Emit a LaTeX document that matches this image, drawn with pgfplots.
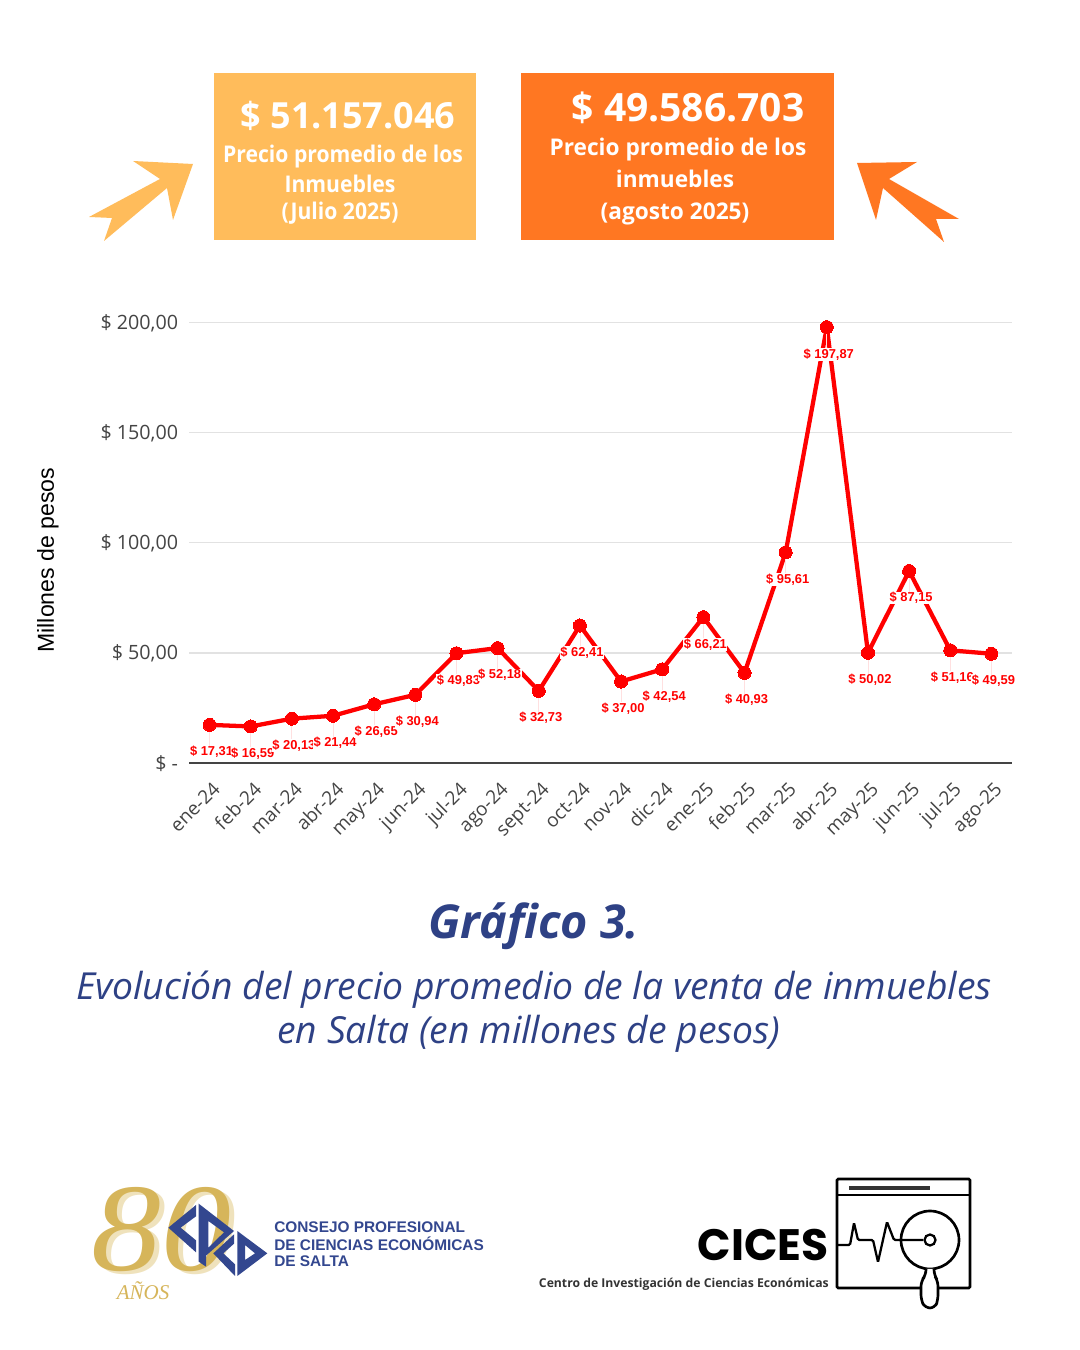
\documentclass[border=0pt]{standalone}
\usepackage{pgfplots}
\pgfplotsset{compat=1.18}
\usepackage{pgfplotstable}
\usepackage{fontspec}
\setmainfont{Open Sans}
\newfontfamily\arial{Liberation Sans}
\newfontfamily\tserif{Liberation Serif}
\newfontfamily\pop{Poppins}
\definecolor{boxA}{HTML}{FFBC5B}
\definecolor{boxB}{HTML}{FF7722}
\definecolor{navy}{HTML}{2E4185}
\definecolor{logob}{HTML}{33478F}
\definecolor{gold}{HTML}{D6B55A}
\definecolor{paleg}{HTML}{EFE2BC}
\definecolor{grid}{HTML}{E2E2E2}
\definecolor{tick}{HTML}{444444}
\newcommand{\px}[1]{\fontsize{\dimexpr#1pt*3/4\relax}{\dimexpr#1pt*9/10\relax}\selectfont}
\pgfplotstableread{
i v lab
0 17.31 17,31
1 16.59 16,59
2 20.13 20,13
3 21.44 21,44
4 26.65 26,65
5 30.94 30,94
6 49.83 49,83
7 52.18 52,18
8 32.73 32,73
9 62.41 62,41
10 37.00 37,00
11 42.54 42,54
12 66.21 66,21
13 40.93 40,93
14 95.61 95,61
15 197.87 197,87
16 50.02 50,02
17 87.15 87,15
18 51.16 51,16
19 49.59 49,59
}\datatable
\begin{document}
\begin{tikzpicture}
\path[use as bounding box,fill=white] (0,0) rectangle (810pt,1012.5pt);
\begin{axis}[
  at={(141.75pt,440.25pt)},anchor=south west,
  scale only axis,width=617.25pt,height=330.4pt,
  xmin=-0.5,xmax=19.5,ymin=0,ymax=200,
  axis x line=bottom,axis y line=left,
  x axis line style={-,color=tick,line width=1pt},
  y axis line style={draw=none},
  ytick={0,50,100,150,200},
  yticklabels={\$ -,{\$ 50,00},{\$ 100,00},{\$ 150,00},{\$ 200,00}},
  xtick={0,...,19},
  xticklabels={ene-24,feb-24,mar-24,abr-24,may-24,jun-24,jul-24,ago-24,sept-24,oct-24,nov-24,dic-24,ene-25,feb-25,mar-25,abr-25,may-25,jun-25,jul-25,ago-25},
  major tick length=0pt,
  ymajorgrids,grid style={color=grid,line width=1pt},
  yticklabel style={font=\px{19.7},text=tick,inner sep=0pt,xshift=-8pt,yshift=-0.7pt},
  xticklabel style={font=\px{19},text=tick,rotate=45,anchor=north east,inner sep=0pt,xshift=-8.2pt,yshift=-10.2pt},
  ylabel={Millones de pesos},
  every axis y label/.style={at={(rel axis cs:0,0.5)},rotate=90,anchor=center,xshift=-13pt,yshift=105.75pt,font=\arial\px{23.1},text=black},
  clip=false,
]
\addplot[red,line width=3.2pt,line join=round,mark=*,mark size=4.9pt,mark options={fill=red,draw=red,line width=0pt},
  point meta=explicit symbolic,
  nodes near coords={\$ \pgfplotspointmeta},
  nodes near coords style={anchor=center,xshift=1.5pt,yshift=-20.3pt,fill=white,inner sep=0.4pt,text=red,font=\arial\bfseries\px{12.9}},
  error bars/.cd,y dir=minus,y fixed=11.8,error mark=none,error bar style={red!12,line width=0.6pt}]
  table[x=i,y=v,meta=lab]{\datatable};
\end{axis}
\begin{scope}[x=0.75pt,y=-0.75pt,yshift=1012.5pt]
% boxes
\fill[boxA] (214,73) rectangle (476,240);
\fill[boxB] (521,73) rectangle (834,240);
\fill[boxA] (133,161)--(193,164)--(173,220)--(167,188)--(104,241)--(112,218)--(89,217)--(160,179)--cycle;
\fill[boxB] (857,163)--(917,162)--(889,179)--(959,219)--(936,219)--(944,242)--(883,188)--(876,220)--cycle;
\node[text=white,font=\bfseries\px{36}] at (348,116) {\$ 51.157.046};
\node[text=white,font=\bfseries\px{23}] at (343,157) {\scalebox{0.92}[1]{Precio promedio de los}};
\node[text=white,font=\bfseries\px{23}] at (340,184) {\scalebox{0.92}[1]{Inmuebles}};
\node[text=white,font=\bfseries\px{23}] at (340,213) {\scalebox{0.92}[1]{(Julio 2025)}};
\node[text=white,font=\bfseries\px{39}] at (688,108) {\$ 49.586.703};
\node[text=white,font=\bfseries\px{23}] at (678,150) {\scalebox{0.985}[1]{Precio promedio de los}};
\node[text=white,font=\bfseries\px{23}] at (675,179) {\scalebox{0.985}[1]{inmuebles}};
\node[text=white,font=\bfseries\px{23}] at (675,214) {\scalebox{0.985}[1]{(agosto 2025)}};
% titles
\node[text=navy,font=\bfseries\itshape\px{46.7}] at (534,926) {Gráfico 3.};
\node[text=navy,font=\itshape\px{37.25}] at (534,990) {Evolución del precio promedio de la venta de inmuebles};
\node[text=navy,font=\itshape\px{37.25}] at (529,1034) {en Salta (en millones de pesos)};
% CPCE logo
\node[text=paleg,font=\tserif\itshape\px{125}] at (166,1233) {\scalebox{1.12}[1]{80}};
\node[text=gold,font=\tserif\itshape\px{125}] at (161,1230) {\scalebox{1.12}[1]{80}};
\node[text=gold,font=\tserif\itshape\px{21}] at (143,1291) {AÑOS};
\begin{scope}[shift={(160,1195)},x=0.25pt,y=-0.25pt]
\fill[logob] (25,98)--(108,30)--(108,64)--(62,98)--(108,136)--(108,172)--cycle;
\fill[logob,even odd rule] (116,26)--(222,108)--(138,182)--(138,215)--(116,200)--cycle (145,78)--(145,158)--(192,112)--cycle;
\fill[logob] (222,118)--(222,146)--(190,175)--(225,208)--(225,243)--(160,175)--cycle;
\fill[logob,even odd rule] (232,108)--(322,175)--(232,243)--cycle (255,150)--(285,175)--(255,195)--cycle;
\end{scope}
\node[anchor=west,inner sep=0pt,text=logob,font=\arial\bfseries\px{15.4}] at (274,1227) {CONSEJO PROFESIONAL};
\node[anchor=west,inner sep=0pt,text=logob,font=\arial\bfseries\px{15.4}] at (274,1243.5) {DE CIENCIAS ECONÓMICAS};
\node[anchor=west,inner sep=0pt,text=logob,font=\arial\bfseries\px{15.4}] at (274,1261) {DE SALTA};
% CICES logo
\node[anchor=east,inner sep=0pt,font=\pop\bfseries\px{44}] at (829,1245) {CICES};
\node[anchor=east,inner sep=0pt,text=black!80,font=\bfseries\px{12.2}] at (829,1284) {Centro de Investigación de Ciencias Económicas};
\draw[line width=2pt,rounded corners=1pt] (837,1179) rectangle (970,1288);
\draw[line width=2pt] (837,1195)--(970,1195);
\draw[line width=2.4pt,black!80] (849,1188)--(930,1188);
\fill[white] (921,1265) rectangle (938,1295);
\draw[line width=2pt] (930,1240) circle (29);
\draw[line width=1.7pt,rounded corners=1pt] (838,1245)--(850,1245)--(854,1223)--(858,1240)--(873,1240)--(878,1262)--(887,1222)--(894,1240)--(923,1240);
\draw[line width=1.7pt] (930,1240) circle (5.5);
\draw[line width=2pt,fill=white,rounded corners=4pt] (926,1269)--(926,1275)--(921,1281)--(921,1300)--(925,1308)--(935,1308)--(938,1300)--(938,1281)--(934,1275)--(934,1269);
\end{scope}
\end{tikzpicture}
\end{document}
